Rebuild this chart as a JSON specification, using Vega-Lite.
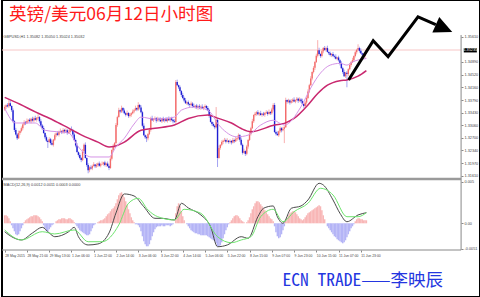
{
"$schema": "https://vega.github.io/schema/vega-lite/v6.json",
"width": 480, "height": 297,
"autosize": {"type": "fit", "contains": "padding"},
"padding": 0,
"background": "#ffffff",
"config": {"view": {"stroke": "#000000", "strokeWidth": 2}, "axis": {"labelFont": "Liberation Sans", "titleFont": "Liberation Sans", "grid": false, "labelOverlap": false, "labelBound": false, "labelSeparation": 0}},
"title": {"text": "英镑/美元06月12日小时图", "anchor": "start", "frame": "group", "orient": "top", "offset": -38, "dx": 7, "baseline": "alphabetic", "font": "Noto Sans CJK SC", "fontSize": 17.6, "fontWeight": "normal", "color": "#ff1a1a"},
"datasets": {
"bid": [{"p": 1.35235, "t": "1.35235"}],
"c": [
{"i":0,"o":1.3352,"h":1.3364,"l":1.3348,"c":1.3359,"m":0.00096},
{"i":1,"o":1.3359,"h":1.3367,"l":1.3353,"c":1.3364,"m":0.00096},
{"i":2,"o":1.3364,"h":1.337,"l":1.3358,"c":1.3361,"m":0.00084},
{"i":3,"o":1.3361,"h":1.3379,"l":1.3356,"c":1.337,"m":0.0006},
{"i":4,"o":1.337,"h":1.3377,"l":1.336,"c":1.3362,"m":0.00024},
{"i":5,"o":1.3362,"h":1.3364,"l":1.3345,"c":1.335,"m":-0.00024},
{"i":6,"o":1.335,"h":1.3355,"l":1.3314,"c":1.3318,"m":-0.0006},
{"i":7,"o":1.3318,"h":1.3321,"l":1.3287,"c":1.3293,"m":-0.00096},
{"i":8,"o":1.3293,"h":1.3299,"l":1.3277,"c":1.328,"m":-0.00132},
{"i":9,"o":1.328,"h":1.3284,"l":1.3264,"c":1.3269,"m":-0.00144},
{"i":10,"o":1.3269,"h":1.3291,"l":1.3267,"c":1.3284,"m":-0.00132},
{"i":11,"o":1.3284,"h":1.3292,"l":1.3279,"c":1.329,"m":-0.00096},
{"i":12,"o":1.329,"h":1.3303,"l":1.3286,"c":1.3298,"m":-0.0006},
{"i":13,"o":1.3298,"h":1.3312,"l":1.3292,"c":1.3309,"m":-0.00024},
{"i":14,"o":1.3309,"h":1.3321,"l":1.3306,"c":1.3315,"m":0.00012},
{"i":15,"o":1.3315,"h":1.3319,"l":1.3307,"c":1.3312,"m":0.00036},
{"i":16,"o":1.3312,"h":1.3326,"l":1.331,"c":1.3319,"m":0.00048},
{"i":17,"o":1.3319,"h":1.3324,"l":1.3314,"c":1.3322,"m":0.0006},
{"i":18,"o":1.3322,"h":1.3327,"l":1.3314,"c":1.3318,"m":0.00072},
{"i":19,"o":1.3318,"h":1.3328,"l":1.3312,"c":1.3325,"m":0.00084},
{"i":20,"o":1.3325,"h":1.3331,"l":1.3317,"c":1.332,"m":0.00084},
{"i":21,"o":1.332,"h":1.3331,"l":1.3315,"c":1.3327,"m":0.00096},
{"i":22,"o":1.3327,"h":1.3334,"l":1.332,"c":1.3322,"m":0.00096},
{"i":23,"o":1.3322,"h":1.333,"l":1.3317,"c":1.3328,"m":0.00096},
{"i":24,"o":1.3328,"h":1.3338,"l":1.3324,"c":1.333,"m":0.00084},
{"i":25,"o":1.333,"h":1.3333,"l":1.3312,"c":1.3318,"m":0.00072},
{"i":26,"o":1.3318,"h":1.3324,"l":1.3303,"c":1.3306,"m":0.00048},
{"i":27,"o":1.3306,"h":1.331,"l":1.3293,"c":1.3298,"m":0.00024},
{"i":28,"o":1.3298,"h":1.3305,"l":1.3282,"c":1.3284,"m":-0.00024},
{"i":29,"o":1.3284,"h":1.3286,"l":1.3267,"c":1.3272,"m":-0.0006},
{"i":30,"o":1.3272,"h":1.3277,"l":1.3258,"c":1.3262,"m":-0.00096},
{"i":31,"o":1.3262,"h":1.3265,"l":1.3241,"c":1.3258,"m":-0.00096},
{"i":32,"o":1.3258,"h":1.3272,"l":1.3255,"c":1.3266,"m":-0.00072},
{"i":33,"o":1.3266,"h":1.327,"l":1.325,"c":1.3255,"m":-0.00048},
{"i":34,"o":1.3255,"h":1.3262,"l":1.3248,"c":1.325,"m":-0.00024},
{"i":35,"o":1.325,"h":1.3267,"l":1.3245,"c":1.3265,"m":-0.00012},
{"i":36,"o":1.3265,"h":1.3283,"l":1.3261,"c":1.3278,"m":0},
{"i":37,"o":1.3278,"h":1.3286,"l":1.3272,"c":1.3283,"m":0.00024},
{"i":38,"o":1.3283,"h":1.3289,"l":1.3276,"c":1.3279,"m":0.00036},
{"i":39,"o":1.3279,"h":1.3291,"l":1.3274,"c":1.3287,"m":0.00048},
{"i":40,"o":1.3287,"h":1.3297,"l":1.3285,"c":1.329,"m":0.00048},
{"i":41,"o":1.329,"h":1.3292,"l":1.3281,"c":1.3286,"m":0.0006},
{"i":42,"o":1.3286,"h":1.3298,"l":1.3282,"c":1.3293,"m":0.0006},
{"i":43,"o":1.3293,"h":1.3296,"l":1.3283,"c":1.3289,"m":0.0006},
{"i":44,"o":1.3289,"h":1.3298,"l":1.3286,"c":1.3292,"m":0.00048},
{"i":45,"o":1.3292,"h":1.3296,"l":1.3279,"c":1.3284,"m":0.00048},
{"i":46,"o":1.3284,"h":1.3294,"l":1.3282,"c":1.3287,"m":0.0006},
{"i":47,"o":1.3287,"h":1.3296,"l":1.3282,"c":1.3294,"m":0.0006},
{"i":48,"o":1.3294,"h":1.3303,"l":1.3289,"c":1.3293,"m":0.00048},
{"i":49,"o":1.3293,"h":1.3296,"l":1.3274,"c":1.328,"m":0.00036},
{"i":50,"o":1.328,"h":1.3286,"l":1.3261,"c":1.3264,"m":0.00012},
{"i":51,"o":1.3264,"h":1.3268,"l":1.3243,"c":1.3248,"m":-0.00012},
{"i":52,"o":1.3248,"h":1.3255,"l":1.3227,"c":1.3229,"m":-0.00036},
{"i":53,"o":1.3229,"h":1.3231,"l":1.3216,"c":1.3221,"m":-0.0006},
{"i":54,"o":1.3221,"h":1.3226,"l":1.3208,"c":1.3212,"m":-0.00084},
{"i":55,"o":1.3212,"h":1.3215,"l":1.32,"c":1.3206,"m":-0.00096},
{"i":56,"o":1.3206,"h":1.3238,"l":1.3203,"c":1.3232,"m":-0.00108},
{"i":57,"o":1.3232,"h":1.3254,"l":1.3227,"c":1.325,"m":-0.0012},
{"i":58,"o":1.325,"h":1.3257,"l":1.321,"c":1.3212,"m":-0.00132},
{"i":59,"o":1.3212,"h":1.3214,"l":1.3187,"c":1.3192,"m":-0.00144},
{"i":60,"o":1.3192,"h":1.3197,"l":1.3168,"c":1.3177,"m":-0.00144},
{"i":61,"o":1.3177,"h":1.3188,"l":1.3171,"c":1.3185,"m":-0.00132},
{"i":62,"o":1.3185,"h":1.3191,"l":1.3179,"c":1.3182,"m":-0.00096},
{"i":63,"o":1.3182,"h":1.3193,"l":1.3177,"c":1.3189,"m":-0.0006},
{"i":64,"o":1.3189,"h":1.32,"l":1.3187,"c":1.3193,"m":-0.00024},
{"i":65,"o":1.3193,"h":1.3195,"l":1.3183,"c":1.3188,"m":-0.00012},
{"i":66,"o":1.3188,"h":1.3197,"l":1.3184,"c":1.3192,"m":0},
{"i":67,"o":1.3192,"h":1.3199,"l":1.3186,"c":1.3196,"m":0.00012},
{"i":68,"o":1.3196,"h":1.3202,"l":1.3187,"c":1.319,"m":0.00024},
{"i":69,"o":1.319,"h":1.3198,"l":1.3185,"c":1.3194,"m":0.00036},
{"i":70,"o":1.3194,"h":1.3202,"l":1.3192,"c":1.3195,"m":0.00036},
{"i":71,"o":1.3195,"h":1.3201,"l":1.319,"c":1.3199,"m":0.00048},
{"i":72,"o":1.3199,"h":1.3204,"l":1.3188,"c":1.3192,"m":0.0006},
{"i":73,"o":1.3192,"h":1.3199,"l":1.3186,"c":1.3196,"m":0.00084},
{"i":74,"o":1.3196,"h":1.3202,"l":1.3186,"c":1.3189,"m":0.00108},
{"i":75,"o":1.3189,"h":1.3193,"l":1.3177,"c":1.3183,"m":0.0012},
{"i":76,"o":1.3183,"h":1.3217,"l":1.3181,"c":1.321,"m":0.00144},
{"i":77,"o":1.321,"h":1.3237,"l":1.3205,"c":1.3235,"m":0.00168},
{"i":78,"o":1.3235,"h":1.3252,"l":1.3231,"c":1.3247,"m":0.0018},
{"i":79,"o":1.3247,"h":1.3258,"l":1.3241,"c":1.3255,"m":0.00204},
{"i":80,"o":1.3255,"h":1.3313,"l":1.3252,"c":1.3307,"m":0.0024},
{"i":81,"o":1.3307,"h":1.3334,"l":1.3302,"c":1.333,"m":0.00288},
{"i":82,"o":1.333,"h":1.3357,"l":1.3328,"c":1.335,"m":0.00336},
{"i":83,"o":1.335,"h":1.3352,"l":1.3341,"c":1.3346,"m":0.0036},
{"i":84,"o":1.3346,"h":1.3363,"l":1.3342,"c":1.3356,"m":0.00372},
{"i":85,"o":1.3356,"h":1.3359,"l":1.3343,"c":1.3349,"m":0.00348},
{"i":86,"o":1.3349,"h":1.3355,"l":1.3338,"c":1.3341,"m":0.00312},
{"i":87,"o":1.3341,"h":1.3345,"l":1.3332,"c":1.3337,"m":0.00264},
{"i":88,"o":1.3337,"h":1.3349,"l":1.3335,"c":1.3342,"m":0.00216},
{"i":89,"o":1.3342,"h":1.3344,"l":1.3328,"c":1.3333,"m":0.00168},
{"i":90,"o":1.3333,"h":1.3342,"l":1.3329,"c":1.3337,"m":0.0012},
{"i":91,"o":1.3337,"h":1.3344,"l":1.3331,"c":1.3341,"m":0.00072},
{"i":92,"o":1.3341,"h":1.3352,"l":1.3338,"c":1.3346,"m":0.00036},
{"i":93,"o":1.3346,"h":1.3354,"l":1.3341,"c":1.335,"m":0.00012},
{"i":94,"o":1.335,"h":1.3363,"l":1.3348,"c":1.3356,"m":-0.00012},
{"i":95,"o":1.3356,"h":1.3358,"l":1.3347,"c":1.3352,"m":-0.00012},
{"i":96,"o":1.3352,"h":1.3373,"l":1.3348,"c":1.3365,"m":-0.00024},
{"i":97,"o":1.3365,"h":1.3368,"l":1.3352,"c":1.3358,"m":-0.00048},
{"i":98,"o":1.3358,"h":1.3364,"l":1.3341,"c":1.3344,"m":-0.00096},
{"i":99,"o":1.3344,"h":1.3348,"l":1.33,"c":1.3305,"m":-0.00156},
{"i":100,"o":1.3305,"h":1.3312,"l":1.3276,"c":1.3278,"m":-0.00216},
{"i":101,"o":1.3278,"h":1.328,"l":1.3267,"c":1.3272,"m":-0.00252},
{"i":102,"o":1.3272,"h":1.3277,"l":1.3258,"c":1.3269,"m":-0.00276},
{"i":103,"o":1.3269,"h":1.3284,"l":1.3263,"c":1.3281,"m":-0.00276},
{"i":104,"o":1.3281,"h":1.3299,"l":1.3278,"c":1.3293,"m":-0.00252},
{"i":105,"o":1.3293,"h":1.3331,"l":1.3288,"c":1.3327,"m":-0.00204},
{"i":106,"o":1.3327,"h":1.3334,"l":1.3319,"c":1.3321,"m":-0.00156},
{"i":107,"o":1.3321,"h":1.3327,"l":1.3316,"c":1.3325,"m":-0.00108},
{"i":108,"o":1.3325,"h":1.3332,"l":1.3321,"c":1.3327,"m":-0.00072},
{"i":109,"o":1.3327,"h":1.333,"l":1.3314,"c":1.332,"m":-0.00048},
{"i":110,"o":1.332,"h":1.3331,"l":1.3317,"c":1.3325,"m":-0.00036},
{"i":111,"o":1.3325,"h":1.3329,"l":1.3317,"c":1.3322,"m":-0.00036},
{"i":112,"o":1.3322,"h":1.3329,"l":1.3316,"c":1.3318,"m":-0.00036},
{"i":113,"o":1.3318,"h":1.3328,"l":1.3313,"c":1.3326,"m":-0.00024},
{"i":114,"o":1.3326,"h":1.3331,"l":1.3316,"c":1.332,"m":-0.00036},
{"i":115,"o":1.332,"h":1.3327,"l":1.3314,"c":1.3324,"m":-0.00036},
{"i":116,"o":1.3324,"h":1.333,"l":1.3316,"c":1.3319,"m":-0.00024},
{"i":117,"o":1.3319,"h":1.3329,"l":1.3314,"c":1.3325,"m":-0.00024},
{"i":118,"o":1.3325,"h":1.3332,"l":1.3319,"c":1.3321,"m":-0.00024},
{"i":119,"o":1.3321,"h":1.3328,"l":1.3316,"c":1.3326,"m":-0.00036},
{"i":120,"o":1.3326,"h":1.3331,"l":1.3318,"c":1.3322,"m":-0.00024},
{"i":121,"o":1.3322,"h":1.3325,"l":1.3312,"c":1.3318,"m":-0.00012},
{"i":122,"o":1.3318,"h":1.3324,"l":1.3313,"c":1.3316,"m":0},
{"i":123,"o":1.3316,"h":1.3437,"l":1.3311,"c":1.3431,"m":0.0012},
{"i":124,"o":1.3431,"h":1.3438,"l":1.342,"c":1.3422,"m":0.00204},
{"i":125,"o":1.3422,"h":1.3424,"l":1.3411,"c":1.3416,"m":0.0024},
{"i":126,"o":1.3416,"h":1.3421,"l":1.3401,"c":1.3405,"m":0.00204},
{"i":127,"o":1.3405,"h":1.3408,"l":1.3388,"c":1.3394,"m":0.00144},
{"i":128,"o":1.3394,"h":1.34,"l":1.3382,"c":1.3385,"m":0.00084},
{"i":129,"o":1.3385,"h":1.3389,"l":1.3373,"c":1.3378,"m":0.00036},
{"i":130,"o":1.3378,"h":1.3385,"l":1.3368,"c":1.337,"m":0},
{"i":131,"o":1.337,"h":1.3375,"l":1.3365,"c":1.3373,"m":-0.00012},
{"i":132,"o":1.3373,"h":1.3378,"l":1.3363,"c":1.3367,"m":-0.00036},
{"i":133,"o":1.3367,"h":1.337,"l":1.3359,"c":1.3365,"m":-0.0006},
{"i":134,"o":1.3365,"h":1.3375,"l":1.3362,"c":1.3369,"m":-0.00084},
{"i":135,"o":1.3369,"h":1.3373,"l":1.3357,"c":1.3362,"m":-0.00096},
{"i":136,"o":1.3362,"h":1.3369,"l":1.3357,"c":1.3359,"m":-0.00108},
{"i":137,"o":1.3359,"h":1.3365,"l":1.3354,"c":1.3363,"m":-0.0012},
{"i":138,"o":1.3363,"h":1.3368,"l":1.3353,"c":1.3357,"m":-0.0012},
{"i":139,"o":1.3357,"h":1.3364,"l":1.3351,"c":1.3361,"m":-0.00132},
{"i":140,"o":1.3361,"h":1.3367,"l":1.3353,"c":1.3356,"m":-0.00132},
{"i":141,"o":1.3356,"h":1.3364,"l":1.3351,"c":1.336,"m":-0.00144},
{"i":142,"o":1.336,"h":1.3367,"l":1.3353,"c":1.3355,"m":-0.00144},
{"i":143,"o":1.3355,"h":1.3361,"l":1.335,"c":1.3359,"m":-0.00144},
{"i":144,"o":1.3359,"h":1.3367,"l":1.3355,"c":1.3362,"m":-0.00144},
{"i":145,"o":1.3362,"h":1.3365,"l":1.335,"c":1.3356,"m":-0.00144},
{"i":146,"o":1.3356,"h":1.3362,"l":1.3347,"c":1.335,"m":-0.00156},
{"i":147,"o":1.335,"h":1.3354,"l":1.3328,"c":1.3333,"m":-0.00168},
{"i":148,"o":1.3333,"h":1.334,"l":1.3314,"c":1.3316,"m":-0.0018},
{"i":149,"o":1.3316,"h":1.3318,"l":1.3305,"c":1.331,"m":-0.00192},
{"i":150,"o":1.331,"h":1.3315,"l":1.3301,"c":1.3305,"m":-0.00204},
{"i":151,"o":1.3305,"h":1.3308,"l":1.3295,"c":1.3301,"m":-0.00216},
{"i":152,"o":1.3301,"h":1.3359,"l":1.3298,"c":1.3322,"m":-0.0024},
{"i":153,"o":1.3322,"h":1.3327,"l":1.3186,"c":1.3212,"m":-0.00276},
{"i":154,"o":1.3212,"h":1.3248,"l":1.321,"c":1.3241,"m":-0.00276},
{"i":155,"o":1.3241,"h":1.3252,"l":1.3236,"c":1.325,"m":-0.00264},
{"i":156,"o":1.325,"h":1.3263,"l":1.3246,"c":1.3258,"m":-0.00228},
{"i":157,"o":1.3258,"h":1.3265,"l":1.3252,"c":1.3262,"m":-0.0018},
{"i":158,"o":1.3262,"h":1.327,"l":1.3259,"c":1.3264,"m":-0.00132},
{"i":159,"o":1.3264,"h":1.3268,"l":1.3254,"c":1.3259,"m":-0.00084},
{"i":160,"o":1.3259,"h":1.3269,"l":1.3257,"c":1.3262,"m":-0.00048},
{"i":161,"o":1.3262,"h":1.3264,"l":1.3253,"c":1.3258,"m":-0.00012},
{"i":162,"o":1.3258,"h":1.3266,"l":1.3254,"c":1.3261,"m":0.00012},
{"i":163,"o":1.3261,"h":1.3264,"l":1.3251,"c":1.3257,"m":0.00036},
{"i":164,"o":1.3257,"h":1.327,"l":1.3254,"c":1.3264,"m":0.0006},
{"i":165,"o":1.3264,"h":1.3268,"l":1.3255,"c":1.326,"m":0.00084},
{"i":166,"o":1.326,"h":1.3273,"l":1.3258,"c":1.3266,"m":0.00096},
{"i":167,"o":1.3266,"h":1.3271,"l":1.3261,"c":1.3269,"m":0.00096},
{"i":168,"o":1.3269,"h":1.3283,"l":1.3265,"c":1.3278,"m":0.00084},
{"i":169,"o":1.3278,"h":1.3281,"l":1.3259,"c":1.3265,"m":0.0006},
{"i":170,"o":1.3265,"h":1.3271,"l":1.3247,"c":1.325,"m":0.00036},
{"i":171,"o":1.325,"h":1.3254,"l":1.3222,"c":1.3227,"m":0.00024},
{"i":172,"o":1.3227,"h":1.3239,"l":1.3225,"c":1.3232,"m":0.00012},
{"i":173,"o":1.3232,"h":1.3234,"l":1.3218,"c":1.3224,"m":0},
{"i":174,"o":1.3224,"h":1.325,"l":1.322,"c":1.3245,"m":0.00012},
{"i":175,"o":1.3245,"h":1.3267,"l":1.3239,"c":1.3264,"m":0.00036},
{"i":176,"o":1.3264,"h":1.3288,"l":1.3261,"c":1.3282,"m":0.00072},
{"i":177,"o":1.3282,"h":1.3302,"l":1.3277,"c":1.3298,"m":0.0012},
{"i":178,"o":1.3298,"h":1.3325,"l":1.3296,"c":1.3318,"m":0.00168},
{"i":179,"o":1.3318,"h":1.3338,"l":1.3313,"c":1.3336,"m":0.00204},
{"i":180,"o":1.3336,"h":1.3345,"l":1.3332,"c":1.334,"m":0.0024},
{"i":181,"o":1.334,"h":1.3347,"l":1.3334,"c":1.3344,"m":0.00264},
{"i":182,"o":1.3344,"h":1.335,"l":1.3335,"c":1.3338,"m":0.00264},
{"i":183,"o":1.3338,"h":1.3345,"l":1.3333,"c":1.3341,"m":0.00252},
{"i":184,"o":1.3341,"h":1.3348,"l":1.3334,"c":1.3336,"m":0.00228},
{"i":185,"o":1.3336,"h":1.3342,"l":1.3331,"c":1.334,"m":0.00204},
{"i":186,"o":1.334,"h":1.3345,"l":1.3333,"c":1.3337,"m":0.0018},
{"i":187,"o":1.3337,"h":1.3345,"l":1.3331,"c":1.3342,"m":0.00156},
{"i":188,"o":1.3342,"h":1.335,"l":1.3339,"c":1.3344,"m":0.00132},
{"i":189,"o":1.3344,"h":1.3348,"l":1.3334,"c":1.3339,"m":0.00108},
{"i":190,"o":1.3339,"h":1.3352,"l":1.3337,"c":1.3345,"m":0.00084},
{"i":191,"o":1.3345,"h":1.3347,"l":1.3336,"c":1.3341,"m":0.0006},
{"i":192,"o":1.3341,"h":1.3357,"l":1.3337,"c":1.3352,"m":0.00048},
{"i":193,"o":1.3352,"h":1.337,"l":1.3346,"c":1.3365,"m":0.00024},
{"i":194,"o":1.3365,"h":1.3371,"l":1.3284,"c":1.3287,"m":-0.00036},
{"i":195,"o":1.3287,"h":1.3291,"l":1.3277,"c":1.3282,"m":-0.00108},
{"i":196,"o":1.3282,"h":1.3289,"l":1.3276,"c":1.3278,"m":-0.00156},
{"i":197,"o":1.3278,"h":1.3291,"l":1.3273,"c":1.3289,"m":-0.0018},
{"i":198,"o":1.3289,"h":1.3303,"l":1.3285,"c":1.3298,"m":-0.00168},
{"i":199,"o":1.3298,"h":1.3301,"l":1.3286,"c":1.3292,"m":-0.00132},
{"i":200,"o":1.3292,"h":1.3302,"l":1.3289,"c":1.3296,"m":-0.00084},
{"i":201,"o":1.3296,"h":1.3305,"l":1.3255,"c":1.3301,"m":-0.00036},
{"i":202,"o":1.3301,"h":1.3386,"l":1.3299,"c":1.3379,"m":0.00024},
{"i":203,"o":1.3379,"h":1.3381,"l":1.3369,"c":1.3374,"m":0.0006},
{"i":204,"o":1.3374,"h":1.3383,"l":1.337,"c":1.3378,"m":0.00096},
{"i":205,"o":1.3378,"h":1.3381,"l":1.3366,"c":1.3372,"m":0.0012},
{"i":206,"o":1.3372,"h":1.3382,"l":1.3369,"c":1.3376,"m":0.00132},
{"i":207,"o":1.3376,"h":1.3384,"l":1.3371,"c":1.338,"m":0.00144},
{"i":208,"o":1.338,"h":1.3387,"l":1.3373,"c":1.3375,"m":0.00144},
{"i":209,"o":1.3375,"h":1.3381,"l":1.337,"c":1.3379,"m":0.00132},
{"i":210,"o":1.3379,"h":1.3388,"l":1.3375,"c":1.3383,"m":0.00108},
{"i":211,"o":1.3383,"h":1.3386,"l":1.3371,"c":1.3377,"m":0.00084},
{"i":212,"o":1.3377,"h":1.3387,"l":1.3374,"c":1.3381,"m":0.0006},
{"i":213,"o":1.3381,"h":1.3385,"l":1.3371,"c":1.3376,"m":0.00048},
{"i":214,"o":1.3376,"h":1.3383,"l":1.3366,"c":1.3368,"m":0.00036},
{"i":215,"o":1.3368,"h":1.337,"l":1.3357,"c":1.3362,"m":0.00048},
{"i":216,"o":1.3362,"h":1.3377,"l":1.3358,"c":1.3372,"m":0.00072},
{"i":217,"o":1.3372,"h":1.3388,"l":1.3366,"c":1.3385,"m":0.00096},
{"i":218,"o":1.3385,"h":1.341,"l":1.3382,"c":1.3404,"m":0.0012},
{"i":219,"o":1.3404,"h":1.3426,"l":1.3399,"c":1.3422,"m":0.00132},
{"i":220,"o":1.3422,"h":1.3448,"l":1.342,"c":1.3441,"m":0.00144},
{"i":221,"o":1.3441,"h":1.3462,"l":1.3436,"c":1.346,"m":0.00156},
{"i":222,"o":1.346,"h":1.3477,"l":1.3456,"c":1.3472,"m":0.00168},
{"i":223,"o":1.3472,"h":1.3492,"l":1.3466,"c":1.3489,"m":0.0018},
{"i":224,"o":1.3489,"h":1.3513,"l":1.3486,"c":1.3507,"m":0.00192},
{"i":225,"o":1.3507,"h":1.3552,"l":1.3502,"c":1.3523,"m":0.00204},
{"i":226,"o":1.3523,"h":1.353,"l":1.351,"c":1.3512,"m":0.00216},
{"i":227,"o":1.3512,"h":1.3514,"l":1.3501,"c":1.3506,"m":0.00204},
{"i":228,"o":1.3506,"h":1.3525,"l":1.3502,"c":1.352,"m":0.00156},
{"i":229,"o":1.352,"h":1.3532,"l":1.3514,"c":1.3529,"m":0.00096},
{"i":230,"o":1.3529,"h":1.3535,"l":1.3521,"c":1.3524,"m":0.00048},
{"i":231,"o":1.3524,"h":1.3533,"l":1.3519,"c":1.3529,"m":0},
{"i":232,"o":1.3529,"h":1.3536,"l":1.3516,"c":1.3518,"m":-0.00036},
{"i":233,"o":1.3518,"h":1.352,"l":1.3509,"c":1.3514,"m":-0.0006},
{"i":234,"o":1.3514,"h":1.3519,"l":1.3505,"c":1.3509,"m":-0.00084},
{"i":235,"o":1.3509,"h":1.3515,"l":1.3503,"c":1.3512,"m":-0.00108},
{"i":236,"o":1.3512,"h":1.3518,"l":1.3503,"c":1.3506,"m":-0.00132},
{"i":237,"o":1.3506,"h":1.351,"l":1.3499,"c":1.3504,"m":-0.00156},
{"i":238,"o":1.3504,"h":1.3511,"l":1.3496,"c":1.3498,"m":-0.00168},
{"i":239,"o":1.3498,"h":1.3504,"l":1.3493,"c":1.3502,"m":-0.00192},
{"i":240,"o":1.3502,"h":1.3507,"l":1.349,"c":1.3494,"m":-0.00204},
{"i":241,"o":1.3494,"h":1.3497,"l":1.3479,"c":1.3485,"m":-0.00216},
{"i":242,"o":1.3485,"h":1.3491,"l":1.3468,"c":1.3471,"m":-0.00228},
{"i":243,"o":1.3471,"h":1.3475,"l":1.3455,"c":1.346,"m":-0.0024},
{"i":244,"o":1.346,"h":1.3467,"l":1.3446,"c":1.3448,"m":-0.00228},
{"i":245,"o":1.3448,"h":1.346,"l":1.3443,"c":1.3458,"m":-0.00204},
{"i":246,"o":1.3458,"h":1.3463,"l":1.3416,"c":1.3454,"m":-0.00168},
{"i":247,"o":1.3454,"h":1.3471,"l":1.3448,"c":1.3468,"m":-0.00132},
{"i":248,"o":1.3468,"h":1.3486,"l":1.3465,"c":1.348,"m":-0.00096},
{"i":249,"o":1.348,"h":1.3492,"l":1.3475,"c":1.3488,"m":-0.0006},
{"i":250,"o":1.3488,"h":1.3501,"l":1.3486,"c":1.3494,"m":-0.00036},
{"i":251,"o":1.3494,"h":1.3508,"l":1.3489,"c":1.3506,"m":-0.00012},
{"i":252,"o":1.3506,"h":1.3522,"l":1.3502,"c":1.3517,"m":0.00024},
{"i":253,"o":1.3517,"h":1.3527,"l":1.3511,"c":1.3524,"m":0.00048},
{"i":254,"o":1.3524,"h":1.354,"l":1.3521,"c":1.3529,"m":0.0006},
{"i":255,"o":1.3529,"h":1.3533,"l":1.3516,"c":1.3521,"m":0.0006},
{"i":256,"o":1.3521,"h":1.3528,"l":1.3512,"c":1.3514,"m":0.00048},
{"i":257,"o":1.3514,"h":1.3516,"l":1.3505,"c":1.351,"m":0.00048},
{"i":258,"o":1.351,"h":1.3515,"l":1.3502,"c":1.3506,"m":0.00036},
{"i":259,"o":1.3506,"h":1.3518,"l":1.35,"c":1.3515,"m":0.00036},
{"i":260,"o":1.3515,"h":1.3529,"l":1.3512,"c":1.3523,"m":0.00036}
],
"ma": [
{"i":0,"k":"slow","v":1.3387},{"i":11,"k":"slow","v":1.3367},{"i":22,"k":"slow","v":1.3345},{"i":35,"k":"slow","v":1.3321},{"i":46,"k":"slow","v":1.3298},{"i":58,"k":"slow","v":1.3273},{"i":67,"k":"slow","v":1.3258},{"i":75,"k":"slow","v":1.3244},{"i":79,"k":"slow","v":1.3246},{"i":86,"k":"slow","v":1.3258},{"i":98,"k":"slow","v":1.3292},{"i":108,"k":"slow","v":1.3298},{"i":122,"k":"slow","v":1.3307},{"i":132,"k":"slow","v":1.3326},{"i":146,"k":"slow","v":1.3336},{"i":153,"k":"slow","v":1.3327},{"i":163,"k":"slow","v":1.3313},{"i":170,"k":"slow","v":1.3297},{"i":177,"k":"slow","v":1.3288},{"i":194,"k":"slow","v":1.3307},{"i":201,"k":"slow","v":1.3312},{"i":208,"k":"slow","v":1.3326},{"i":218,"k":"slow","v":1.3365},{"i":225,"k":"slow","v":1.3398},{"i":232,"k":"slow","v":1.3422},{"i":241,"k":"slow","v":1.3435},{"i":246,"k":"slow","v":1.3437},{"i":254,"k":"slow","v":1.3448},{"i":260,"k":"slow","v":1.3464},
{"i":0,"k":"fast","v":1.3355},{"i":8,"k":"fast","v":1.3313},{"i":22,"k":"fast","v":1.3313},{"i":29,"k":"fast","v":1.3292},{"i":46,"k":"fast","v":1.3284},{"i":53,"k":"fast","v":1.3244},{"i":62,"k":"fast","v":1.3215},{"i":75,"k":"fast","v":1.3215},{"i":80,"k":"fast","v":1.3244},{"i":86,"k":"fast","v":1.3269},{"i":93,"k":"fast","v":1.331},{"i":98,"k":"fast","v":1.333},{"i":103,"k":"fast","v":1.3327},{"i":108,"k":"fast","v":1.3324},{"i":122,"k":"fast","v":1.333},{"i":127,"k":"fast","v":1.335},{"i":136,"k":"fast","v":1.3359},{"i":146,"k":"fast","v":1.335},{"i":155,"k":"fast","v":1.3302},{"i":167,"k":"fast","v":1.3273},{"i":175,"k":"fast","v":1.3278},{"i":184,"k":"fast","v":1.3307},{"i":193,"k":"fast","v":1.3321},{"i":201,"k":"fast","v":1.3307},{"i":213,"k":"fast","v":1.336},{"i":220,"k":"fast","v":1.3414},{"i":227,"k":"fast","v":1.3457},{"i":234,"k":"fast","v":1.348},{"i":241,"k":"fast","v":1.3485},{"i":246,"k":"fast","v":1.348},{"i":250,"k":"fast","v":1.3489},{"i":260,"k":"fast","v":1.3499}
],
"md": [
{"i":0,"k":"dif","v":-0.00101},{"i":5,"k":"dif","v":-0.00161},{"i":12,"k":"dif","v":-0.002},{"i":20,"k":"dif","v":-0.00116},{"i":27,"k":"dif","v":-0.00048},{"i":32,"k":"dif","v":-0.00116},{"i":36,"k":"dif","v":-0.00161},{"i":46,"k":"dif","v":-0.00101},{"i":50,"k":"dif","v":-0.00048},{"i":53,"k":"dif","v":-0.00161},{"i":60,"k":"dif","v":-0.0026},{"i":67,"k":"dif","v":-0.00248},{"i":75,"k":"dif","v":-0.00116},{"i":80,"k":"dif","v":0.00124},{"i":86,"k":"dif","v":0.00352},{"i":93,"k":"dif","v":0.00328},{"i":100,"k":"dif","v":0.00199},{"i":108,"k":"dif","v":0.0006},{"i":113,"k":"dif","v":0.0006},{"i":122,"k":"dif","v":0.0004},{"i":127,"k":"dif","v":0.0024},{"i":132,"k":"dif","v":0.00184},{"i":141,"k":"dif","v":0.001},{"i":148,"k":"dif","v":-0.00041},{"i":153,"k":"dif","v":-0.00281},{"i":160,"k":"dif","v":-0.0026},{"i":170,"k":"dif","v":-0.00161},{"i":175,"k":"dif","v":-0.0018},{"i":182,"k":"dif","v":0.00079},{"i":186,"k":"dif","v":0.0018},{"i":193,"k":"dif","v":0.00208},{"i":196,"k":"dif","v":0.00079},{"i":200,"k":"dif","v":0},{"i":206,"k":"dif","v":0.0018},{"i":213,"k":"dif","v":0.00208},{"i":218,"k":"dif","v":0.0028},{"i":226,"k":"dif","v":0.0048},{"i":229,"k":"dif","v":0.0046},{"i":236,"k":"dif","v":0.0028},{"i":241,"k":"dif","v":0.0012},{"i":246,"k":"dif","v":0.00019},{"i":254,"k":"dif","v":0.001},{"i":260,"k":"dif","v":0.00127},
{"i":0,"k":"dea","v":-0.0008},{"i":12,"k":"dea","v":-0.002},{"i":27,"k":"dea","v":-0.00101},{"i":36,"k":"dea","v":-0.00128},{"i":50,"k":"dea","v":-0.0008},{"i":60,"k":"dea","v":-0.00221},{"i":70,"k":"dea","v":-0.00221},{"i":82,"k":"dea","v":-0.0002},{"i":89,"k":"dea","v":0.0024},{"i":96,"k":"dea","v":0.003},{"i":103,"k":"dea","v":0.0016},{"i":110,"k":"dea","v":0.00079},{"i":122,"k":"dea","v":0.0004},{"i":129,"k":"dea","v":0.00168},{"i":141,"k":"dea","v":0.0012},{"i":153,"k":"dea","v":-0.00161},{"i":163,"k":"dea","v":-0.00233},{"i":170,"k":"dea","v":-0.002},{"i":177,"k":"dea","v":-0.00161},{"i":184,"k":"dea","v":0.00079},{"i":193,"k":"dea","v":0.00168},{"i":200,"k":"dea","v":0.00019},{"i":208,"k":"dea","v":0.00139},{"i":218,"k":"dea","v":0.0024},{"i":227,"k":"dea","v":0.0042},{"i":236,"k":"dea","v":0.0034},{"i":246,"k":"dea","v":0.00079},{"i":254,"k":"dea","v":0.00079},{"i":260,"k":"dea","v":0.00127}
],
"ar": [{"i":247.2,"p":1.3437,"n":0},{"i":264.9,"p":1.355,"n":1},{"i":275.6,"p":1.3504,"n":2},{"i":297.1,"p":1.3619,"n":3},{"i":309.9,"p":1.3597,"n":4}],
"hd": [{"i":315.8,"p":1.35857}]
},
"resolve": {"scale": {"y": "independent"}, "axis": {"y": "independent"}},
"layer": [
{"layer": [
 {"data": {"name": "bid"}, "mark": {"type": "rule", "color": "#f7c6c6", "strokeWidth": 1},
  "encoding": {"x": {"datum": -1.93}, "x2": {"datum": 328.06}, "y": {"field": "p", "type": "quantitative"}}},
 {"data": {"name": "c"}, "mark": {"type": "rule", "strokeWidth": 1},
  "encoding": {
   "x": {"field": "i", "type": "quantitative", "scale": {"domain": [-1.933, 341.66], "nice": false, "zero": false},
     "axis": {"orient": "bottom", "offset": -47, "values": [0,16,32,48,64,80,96,112,128,144,160,176,192,208,224,240,256], "tickCount": 60,
       "labelExpr": "['28 May 2015','28 May 21:00','29 May 13:00','1 Jun 06:00','1 Jun 22:00','2 Jun 14:00','3 Jun 06:00','3 Jun 22:00','4 Jun 14:00','5 Jun 06:00','5 Jun 22:00','8 Jun 15:00','9 Jun 07:00','9 Jun 23:00','10 Jun 15:00','11 Jun 07:00','11 Jun 23:00'][round(datum.value/16)]",
       "labelAlign": "left", "labelFontSize": 3.4, "labelColor": "#444", "labelPadding": 1, "labelOverlap": false, "labelBound": false, "labelSeparation": 0, "labelFlush": false,
       "domain": false, "ticks": true, "tickSize": 2, "tickColor": "#888",
       "title": "ECN TRADE——李映辰", "titleX": 280, "titleY": 35, "titleAlign": "left", "titleBaseline": "alphabetic",
       "titleFont": "Noto Sans Mono CJK SC, DejaVu Sans Mono, monospace", "titleFontSize": 17.5, "titleFontWeight": "normal", "titleColor": "#2436e0"}},
   "y": {"field": "l", "type": "quantitative", "scale": {"domain": [1.28112, 1.36677], "nice": false, "zero": false},
     "axis": {"orient": "right", "offset": -19, "values": [1.3161,1.3197,1.3234,1.327,1.3306,1.3343,1.3379,1.3416,1.3452,1.3489,1.3561], "tickCount": 60,
       "labelExpr": "format(datum.value, '.5f')", "labelFontSize": 3.8, "labelColor": "#444", "labelPadding": 1, "labelOverlap": false, "labelBound": false, "labelSeparation": 0, "labelFlush": false,
       "domain": false, "tickSize": 2, "tickColor": "#888",
       "title": "GBPUSD,H1  1.35082 1.35050 1.35024 1.35032", "titleX": -458, "titleY": 36, "titleAngle": 0, "titleAlign": "left", "titleBaseline": "middle",
       "titleFontSize": 3.8, "titleFontWeight": "normal", "titleColor": "#444"}},
   "y2": {"field": "h"},
   "color": {"condition": {"test": "datum.c < datum.o", "value": "#a4a4f2"}, "value": "#f9b0b0"}}},
 {"data": {"name": "c"}, "mark": {"type": "rule", "strokeWidth": 1.4},
  "encoding": {"x": {"field": "i", "type": "quantitative"}, "y": {"field": "o", "type": "quantitative"}, "y2": {"field": "c"},
   "color": {"condition": {"test": "datum.c < datum.o", "value": "#1e1ed2"}, "value": "#f36c6c"}}},
 {"data": {"name": "ma"}, "transform": [{"filter": "datum.k == 'slow'"}], "mark": {"type": "line", "color": "#c9286f", "strokeWidth": 1.5, "interpolate": "monotone"},
  "encoding": {"x": {"field": "i", "type": "quantitative"}, "y": {"field": "v", "type": "quantitative"}}},
 {"data": {"name": "ma"}, "transform": [{"filter": "datum.k == 'fast'"}], "mark": {"type": "line", "color": "#d594e6", "strokeWidth": 1, "interpolate": "monotone"},
  "encoding": {"x": {"field": "i", "type": "quantitative"}, "y": {"field": "v", "type": "quantitative"}}},
 {"data": {"name": "bid"}, "mark": {"type": "rule", "color": "#888888", "strokeWidth": 1},
  "encoding": {"x": {"datum": 328.06}, "y": {"datum": 1.35668}, "y2": {"datum": 1.29467}}},
 {"data": {"name": "bid"}, "mark": {"type": "rule", "color": "#9a9a9a", "strokeWidth": 2.5},
  "encoding": {"x": {"datum": -1.93}, "x2": {"datum": 328.06}, "y": {"datum": 1.31515}}},
 {"data": {"name": "bid"}, "mark": {"type": "rect", "color": "#000000"},
  "encoding": {"x": {"datum": 330.0}, "x2": {"datum": 339.4}, "y": {"datum": 1.35289}, "y2": {"datum": 1.35165}}},
 {"data": {"name": "bid"}, "mark": {"type": "text", "color": "#ffffff", "fontSize": 3.8, "font": "Liberation Sans", "align": "center", "baseline": "middle"},
  "encoding": {"x": {"datum": 334.7}, "y": {"field": "p", "type": "quantitative"}, "text": {"field": "t"}}},
 {"data": {"name": "ar"}, "mark": {"type": "line", "color": "#000000", "strokeWidth": 3, "strokeJoin": "miter"},
  "encoding": {"x": {"field": "i", "type": "quantitative"}, "y": {"field": "p", "type": "quantitative"}, "order": {"field": "n"}}},
 {"data": {"name": "hd"}, "mark": {"type": "point", "shape": "M1,0L-1,-0.94L-1,0.94Z", "filled": true, "color": "#000000", "opacity": 1, "size": 324, "angle": 24},
  "encoding": {"x": {"field": "i", "type": "quantitative"}, "y": {"field": "p", "type": "quantitative"}}}
]},
{"layer": [
 {"data": {"name": "c"}, "mark": {"type": "rule", "strokeWidth": 1.5},
  "encoding": {"x": {"field": "i", "type": "quantitative"},
   "y": {"field": "m", "type": "quantitative", "scale": {"domain": [-0.008844, 0.026796], "nice": false, "zero": false},
     "axis": {"orient": "right", "offset": -19, "values": [0.005, 0, -0.00308], "tickCount": 60,
       "labelExpr": "datum.value > 0.001 ? '0.005' : (datum.value < -0.001 ? '-0.0051' : '0.00')",
       "labelFontSize": 3.8, "labelColor": "#444", "labelPadding": 1, "labelOverlap": false, "labelBound": false, "labelFlush": false,
       "domain": false, "tickSize": 2, "tickColor": "#888",
       "title": "MACD(12,26,9) 0.0012 0.0011 0.0003 0.0000", "titleX": -458, "titleY": 184, "titleAngle": 0, "titleAlign": "left", "titleBaseline": "middle",
       "titleFontSize": 3.8, "titleFontWeight": "normal", "titleColor": "#444"}},
   "y2": {"datum": 0},
   "color": {"condition": {"test": "datum.m < 0", "value": "#b4b4f6"}, "value": "#f8b6b6"}}},
 {"data": {"name": "md"}, "transform": [{"filter": "datum.k == 'dif'"}], "mark": {"type": "line", "color": "#4a4a4a", "strokeWidth": 1, "interpolate": "monotone"},
  "encoding": {"x": {"field": "i", "type": "quantitative"}, "y": {"field": "v", "type": "quantitative"}}},
 {"data": {"name": "md"}, "transform": [{"filter": "datum.k == 'dea'"}], "mark": {"type": "line", "color": "#6ee46e", "strokeWidth": 1, "interpolate": "monotone"},
  "encoding": {"x": {"field": "i", "type": "quantitative"}, "y": {"field": "v", "type": "quantitative"}}},
 {"data": {"name": "bid"}, "mark": {"type": "rule", "color": "#888888", "strokeWidth": 1},
  "encoding": {"x": {"datum": -1.93}, "x2": {"datum": 328.06}, "y": {"datum": -0.003204}}}
]}
]
}
